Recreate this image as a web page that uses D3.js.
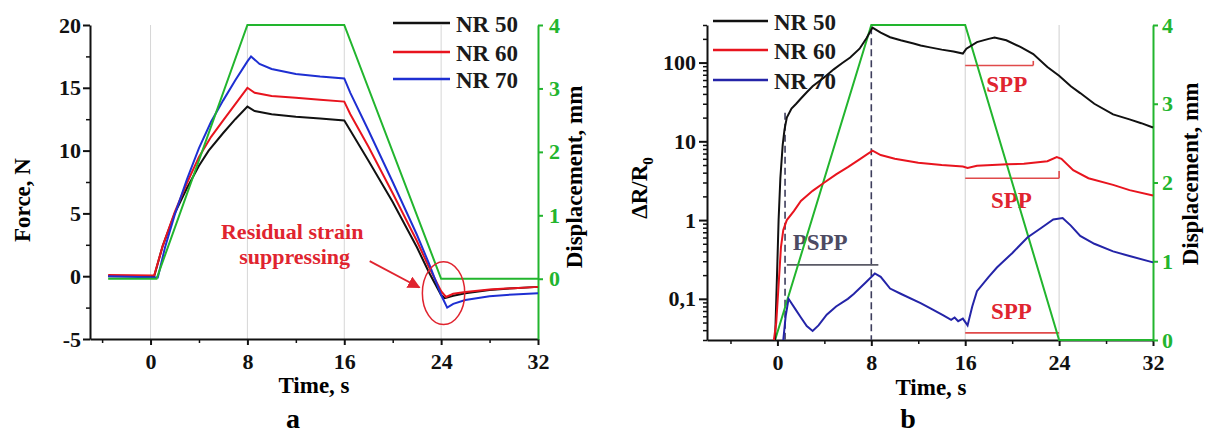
<!DOCTYPE html>
<html>
<head>
<meta charset="utf-8">
<script src="https://cdn.jsdelivr.net/npm/d3@7"></script>
<style>
body { margin: 0; background: #fff; }
text { font-family: "Liberation Serif", "Times New Roman", serif; font-weight: bold; }
</style>
</head>
<body>
<div id="chart"></div>
<script>
// ---- panel a: force vs time, [time s, force N]
const forceNR50 = [[-3.5,0],[0.3,0],[1,2.4],[2,5.0],[3,7.0],[4,8.8],[4.8,10.0],[6,11.4],[7,12.5],[8,13.5],[8.6,13.15],[10,12.9],[12,12.7],[14,12.55],[16,12.4],[16.5,11.6],[18,9.2],[20,5.9],[22,2.3],[23,0.3],[24,-1.5],[24.3,-1.75],[25,-1.55],[26,-1.35],[28,-1.1],[30,-0.95],[32,-0.85]];
const forceNR60 = [[-3.5,0.1],[0.3,0.05],[1,2.4],[2,5.1],[3,7.4],[4,9.5],[5,11.1],[6,12.4],[7,13.7],[8,15.0],[8.6,14.6],[10,14.35],[12,14.2],[14,14.05],[16,13.9],[16.5,12.9],[18,10.3],[20,6.6],[22,2.8],[23,0.7],[24,-1.2],[24.4,-1.65],[25,-1.4],[26,-1.25],[28,-1.05],[30,-0.95],[32,-0.85]];
const forceNR70 = [[-3.5,0],[0.6,-0.1],[1.2,2.3],[2,4.9],[3,7.7],[4,10.2],[5,12.3],[6,14.0],[7,15.6],[8,17.1],[8.3,17.5],[9,16.9],[10,16.5],[12,16.1],[14,15.9],[16,15.75],[16.5,14.6],[18,11.6],[20,7.5],[22,3.3],[23,1.0],[24,-1.5],[24.5,-2.5],[25,-2.2],[26,-1.9],[28,-1.6],[30,-1.45],[32,-1.35]];
const dispA = [[-3.5,0],[0.5,0],[8,4],[16,4],[24,0],[32,0]];

// ---- panel b: dR/R0 vs time
const resNR50 = [[-0.2,0.03],[0,0.3],[0.1,1],[0.25,3.4],[0.45,9],[0.6,14],[0.8,20],[1.2,26],[1.6,30],[2,35],[2.5,42],[3,50],[4,65],[4.8,82],[5.5,98],[6.2,116],[7,150],[7.6,205],[8.1,278],[8.8,240],[9.6,210],[10.5,192],[11.6,175],[12.2,165],[13,156],[14,146],[15,138],[15.8,130],[16.1,150],[17,182],[18,200],[18.5,208],[19.5,192],[20.7,158],[21.8,128],[23,88],[24,68],[25,50],[25.8,41],[27,30],[28.6,22],[30,19],[31,17],[32,15]];
const resNR60 = [[-0.3,0.03],[-0.1,0.05],[0.1,0.15],[0.3,0.45],[0.5,0.75],[0.8,1.0],[1.4,1.3],[2,1.75],[3,2.35],[4,3.0],[5,3.8],[6,4.7],[7,5.9],[8.1,7.6],[8.8,6.7],[10,6.0],[12,5.35],[14,5.0],[15.8,4.8],[16.2,4.6],[17,4.9],[19.6,5.1],[21,5.2],[23,5.6],[23.8,6.3],[24.2,6.0],[25.2,4.3],[26.5,3.4],[28.6,2.8],[30,2.4],[32,2.05]];
const resNR70 = [[0.5,0.03],[0.7,0.06],[0.95,0.1],[1.5,0.075],[2,0.058],[2.5,0.045],[3,0.039],[3.5,0.046],[4.2,0.063],[5,0.08],[6,0.1],[6.5,0.115],[7.5,0.16],[8.3,0.21],[8.8,0.19],[9.6,0.135],[10.5,0.116],[12.2,0.088],[13,0.076],[14.1,0.062],[14.8,0.054],[15.1,0.058],[15.4,0.052],[15.8,0.056],[16.2,0.046],[16.6,0.08],[17,0.125],[18,0.19],[18.7,0.25],[20,0.38],[21.3,0.6],[22.5,0.8],[23.5,1.02],[24.3,1.06],[25,0.85],[25.8,0.63],[27,0.5],[28.6,0.4],[30,0.35],[32,0.29]];
const dispB = [[-0.2,0],[8,4],[16,4],[24,0],[32,0]];

const timeTicks = [0, 8, 16, 24, 32];
const timeMinor = [-4, 4, 12, 20, 28];
const forceTicks = [-5, 0, 5, 10, 15, 20];
const forceMinor = [-2.5, 2.5, 7.5, 12.5, 17.5];
const dispTicks = [0, 1, 2, 3, 4];
const resTicks = [0.1, 1, 10, 100];
const seriesNames = ["NR 50", "NR 60", "NR 70"];

const cBlack = "#111111", cRed = "#e8141e", cBlueA = "#1e2fd2", cBlueB = "#2424a8", cGreen = "#22b52e";
const cAnn = "#e0242f";

const W = 1206, H = 436;
const svg = d3.select("#chart").append("svg").attr("width", W).attr("height", H);

function styleAxis(g, color, size) {
  g.select(".domain").attr("stroke", color).attr("stroke-width", 2);
  g.selectAll(".tick line").attr("stroke", color).attr("stroke-width", 2);
  g.selectAll(".tick text").attr("fill", color).style("font-size", size + "px");
}
function minorAxis(g, color) {
  g.select(".domain").remove();
  g.selectAll(".tick line").attr("stroke", color).attr("stroke-width", 1.5);
}

// ================= panel a =================
const xa = d3.scaleLinear().domain([-5, 32]).range([90, 538]);
const ya = d3.scaleLinear().domain([-5, 20]).range([339, 25]);
const yaD = d3.scaleLinear().domain([-0.95, 4]).range([339, 25]);

const pa = svg.append("g");
pa.selectAll(".grid").data([0, 8, 16, 24]).enter().append("line")
  .attr("x1", d => xa(d)).attr("x2", d => xa(d)).attr("y1", ya(20)).attr("y2", ya(-5))
  .attr("stroke", "#d6d6d6").attr("stroke-width", 1);

pa.append("g").attr("transform", `translate(0,${ya(-5)})`)
  .call(d3.axisBottom(xa).tickValues(timeMinor).tickSize(4).tickFormat(""))
  .call(g => minorAxis(g, cBlack));
pa.append("g").attr("transform", `translate(0,${ya(-5)})`)
  .call(d3.axisBottom(xa).tickValues(timeTicks).tickSize(6).tickPadding(8).tickSizeOuter(0))
  .call(g => styleAxis(g, cBlack, 22));
pa.append("g").attr("transform", `translate(${xa(-5)},0)`)
  .call(d3.axisLeft(ya).tickValues(forceMinor).tickSize(4).tickFormat(""))
  .call(g => minorAxis(g, cBlack));
pa.append("g").attr("transform", `translate(${xa(-5)},0)`)
  .call(d3.axisLeft(ya).tickValues(forceTicks).tickSize(7).tickPadding(2).tickSizeOuter(0).tickFormat(d => String(d)))
  .call(g => styleAxis(g, cBlack, 22));
pa.append("g").attr("transform", `translate(${xa(32)},0)`)
  .call(d3.axisRight(yaD).tickValues(dispTicks).tickSize(5).tickPadding(6).tickSizeOuter(0).tickFormat(d => String(d)))
  .call(g => styleAxis(g, cGreen, 22));

const lineA = d3.line().x(d => xa(d[0])).y(d => ya(d[1]));
const lineAD = d3.line().x(d => xa(d[0])).y(d => yaD(d[1]));
[[forceNR50, cBlack], [forceNR60, cRed], [forceNR70, cBlueA]].forEach(([s, c]) => {
  pa.append("path").attr("d", lineA(s)).attr("fill", "none").attr("stroke", c).attr("stroke-width", 2);
});
pa.append("path").attr("d", lineAD(dispA)).attr("fill", "none").attr("stroke", cGreen).attr("stroke-width", 2);

// legend a
[cBlack, cRed, cBlueA].forEach((c, i) => {
  const y = [23, 52, 79][i];
  pa.append("line").attr("x1", 393).attr("x2", 450).attr("y1", y).attr("y2", y)
    .attr("stroke", c).attr("stroke-width", 2.5);
  pa.append("text").attr("x", 456).attr("y", y + 9).style("font-size", "23px").attr("fill", "#1a1a1a")
    .text(seriesNames[i]);
});

// annotation a
pa.append("ellipse").attr("cx", xa(24.2)).attr("cy", ya(-1.35))
  .attr("rx", xa(24.2 + 1.75) - xa(24.2)).attr("ry", ya(-1.35 - 2.5) - ya(-1.35))
  .attr("fill", "none").attr("stroke", cAnn).attr("stroke-width", 1.5);
svg.append("defs").append("marker").attr("id", "arr").attr("viewBox", "0 0 10 10")
  .attr("refX", 9).attr("refY", 5).attr("markerWidth", 7).attr("markerHeight", 7).attr("orient", "auto")
  .append("path").attr("d", "M0,0L10,5L0,10z").attr("fill", cAnn);
pa.append("line").attr("x1", xa(18.1)).attr("y1", ya(1.2)).attr("x2", xa(22.2)).attr("y2", ya(-0.9))
  .attr("stroke", cAnn).attr("stroke-width", 1.8).attr("marker-end", "url(#arr)");
pa.append("text").attr("x", xa(11.7)).attr("y", ya(3.0)).attr("text-anchor", "middle")
  .style("font-size", "22px").attr("fill", cAnn).text("Residual strain");
pa.append("text").attr("x", xa(11.9)).attr("y", ya(0.95)).attr("text-anchor", "middle")
  .style("font-size", "22px").attr("fill", cAnn).text("suppressing");

pa.append("text").attr("transform", "translate(30,200) rotate(-90)").attr("text-anchor", "middle")
  .style("font-size", "23px").text("Force, N");
pa.append("text").attr("transform", "translate(582,177) rotate(-90)").attr("text-anchor", "middle")
  .style("font-size", "23px").text("Displacement, mm");
pa.append("text").attr("x", 314).attr("y", 393).attr("text-anchor", "middle").style("font-size", "23px").text("Time, s");
pa.append("text").attr("x", 293).attr("y", 428).attr("text-anchor", "middle").style("font-size", "28px").text("a");

// ================= panel b =================
const xb = d3.scaleLinear().domain([-6, 32]).range([707, 1153]);
const yb = d3.scaleLog().domain([0.03, 300]).range([340, 25]);
const ybD = d3.scaleLinear().domain([0, 4]).range([340, 25]);

const pb = svg.append("g");
pb.selectAll(".grid").data([16, 24]).enter().append("line")
  .attr("x1", d => xb(d)).attr("x2", d => xb(d)).attr("y1", yb(300)).attr("y2", yb(0.03))
  .attr("stroke", "#cfcfcf").attr("stroke-width", 1);

const logMinor = [];
[0.01, 0.1, 1, 10, 100].forEach(dec => {
  for (let k = 2; k <= 9; k++) {
    const v = dec * k;
    if (v >= 0.03 && v <= 300) logMinor.push(v);
  }
});
pb.append("g").attr("transform", `translate(0,${yb(0.03)})`)
  .call(d3.axisBottom(xb).tickValues(timeMinor).tickSize(4).tickFormat(""))
  .call(g => minorAxis(g, cBlack));
pb.append("g").attr("transform", `translate(0,${yb(0.03)})`)
  .call(d3.axisBottom(xb).tickValues(timeTicks).tickSize(6).tickPadding(8).tickSizeOuter(0))
  .call(g => styleAxis(g, cBlack, 22));
pb.append("g").attr("transform", `translate(${xb(-6)},0)`)
  .call(d3.axisLeft(yb).tickValues(logMinor).tickSize(4).tickFormat(""))
  .call(g => minorAxis(g, cBlack));
pb.append("g").attr("transform", `translate(${xb(-6)},0)`)
  .call(d3.axisLeft(yb).tickValues(resTicks).tickSize(8).tickPadding(3).tickSizeOuter(0)
    .tickFormat(d => String(d).replace(".", ",")))
  .call(g => styleAxis(g, cBlack, 22));
pb.append("g").attr("transform", `translate(${xb(32)},0)`)
  .call(d3.axisRight(ybD).tickValues(dispTicks).tickSize(5).tickPadding(4).tickSizeOuter(0).tickFormat(d => String(d)))
  .call(g => styleAxis(g, cGreen, 22));

// legend b (curves pass over it)
[cBlack, cRed, cBlueB].forEach((c, i) => {
  const y = [21, 50, 80][i];
  pb.append("line").attr("x1", 713).attr("x2", 768).attr("y1", y).attr("y2", y)
    .attr("stroke", c).attr("stroke-width", 2.5);
  pb.append("text").attr("x", 774).attr("y", y + 9).style("font-size", "23px").attr("fill", "#1a1a1a")
    .text(seriesNames[i]);
});

// dashed guides and brackets
const dashCol = "#3d3d5c";
[[0.65, 23], [8, 280]].forEach(([t, top]) => {
  pb.append("line").attr("x1", xb(t)).attr("x2", xb(t)).attr("y1", yb(top)).attr("y2", yb(0.03))
    .attr("stroke", dashCol).attr("stroke-width", 1.6).attr("stroke-dasharray", "7,4");
});
pb.append("line").attr("x1", xb(0.8)).attr("x2", xb(8.6)).attr("y1", yb(0.27)).attr("y2", yb(0.27))
  .attr("stroke", "#5a5a66").attr("stroke-width", 1.6);
pb.append("text").attr("x", xb(1.3)).attr("y", 250).style("font-size", "23px").attr("fill", "#4d4b63").text("PSPP");

const sppLines = [[16, 21.8, 92, 105], [16, 24, 3.4, 4.2], [16, 24, 0.037, null]];
const sppText = [[17.8, 92], [18.2, 208], [18.2, 319]];
const sppCol = "#e04a4a";
sppLines.forEach(([a, b, v, up], i) => {
  pb.append("line").attr("x1", xb(a)).attr("x2", xb(b)).attr("y1", yb(v)).attr("y2", yb(v))
    .attr("stroke", sppCol).attr("stroke-width", 1.6);
  if (up) pb.append("line").attr("x1", xb(b)).attr("x2", xb(b)).attr("y1", yb(v)).attr("y2", yb(up))
    .attr("stroke", sppCol).attr("stroke-width", 1.6);
  pb.append("text").attr("x", xb(sppText[i][0])).attr("y", sppText[i][1]).style("font-size", "23px")
    .attr("fill", cAnn).text("SPP");
});

const lineB = d3.line().x(d => xb(d[0])).y(d => yb(d[1]));
const lineBD = d3.line().x(d => xb(d[0])).y(d => ybD(d[1]));
pb.append("path").attr("d", lineBD(dispB)).attr("fill", "none").attr("stroke", cGreen).attr("stroke-width", 2);
[[resNR50, cBlack], [resNR60, cRed], [resNR70, cBlueB]].forEach(([s, c]) => {
  pb.append("path").attr("d", lineB(s)).attr("fill", "none").attr("stroke", c).attr("stroke-width", 2);
});

const yt = pb.append("text").attr("transform", "translate(647,188) rotate(-90)").attr("text-anchor", "middle")
  .style("font-size", "23px");
yt.append("tspan").text("ΔR/R");
yt.append("tspan").attr("dy", 6).style("font-size", "15px").text("0");
pb.append("text").attr("transform", "translate(1198,174) rotate(-90)").attr("text-anchor", "middle")
  .style("font-size", "23px").text("Displacement, mm");
pb.append("text").attr("x", 931).attr("y", 395).attr("text-anchor", "middle").style("font-size", "23px").text("Time, s");
pb.append("text").attr("x", 908).attr("y", 428).attr("text-anchor", "middle").style("font-size", "28px").text("b");
</script>
</body>
</html>
